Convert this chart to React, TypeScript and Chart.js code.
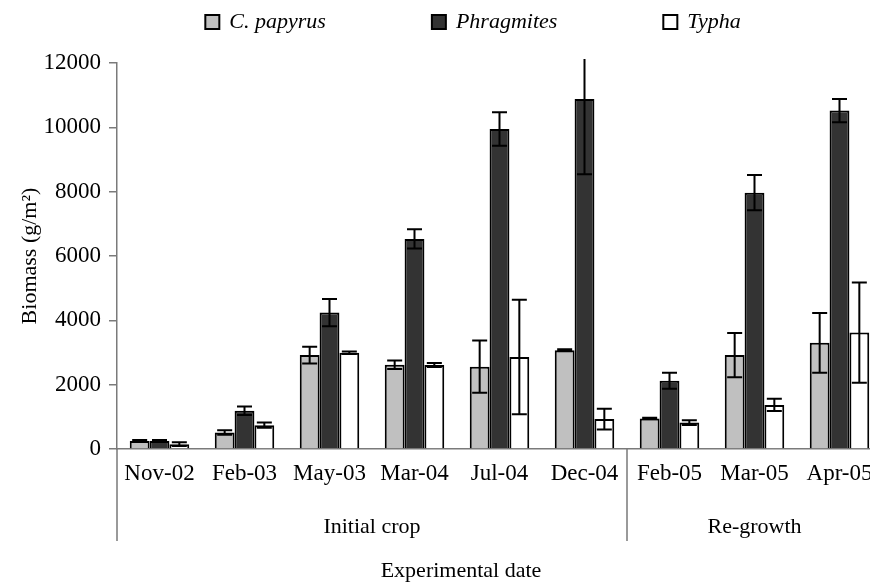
import React, { useEffect, useRef } from 'react';
import { Chart, registerables } from 'chart.js';

Chart.register(...registerables);

const categories = ['Nov-02', 'Feb-03', 'May-03', 'Mar-04', 'Jul-04', 'Dec-04', 'Feb-05', 'Mar-05', 'Apr-05'];
const groupNames = ['Initial crop', 'Re-growth'];
const groupSizes = [6, 3];
const seriesNames = ['C. papyrus', 'Phragmites', 'Typha'];

const papyrus = [250, 510, 2920, 2620, 2560, 3070, 950, 2920, 3300];
const papyrusErr = [30, 70, 260, 130, 810, 30, 25, 690, 930];
const phragmites = [250, 1190, 4240, 6530, 9950, 10880, 2120, 7970, 10520];
const phragmitesErr = [30, 130, 425, 300, 520, 2340, 250, 550, 360];
const typha = [150, 740, 2990, 2610, 2860, 930, 820, 1370, 3620];
const typhaErr = [60, 80, 40, 60, 1780, 320, 70, 190, 1560];

const yMin = 0;
const yMax = 12000;
const yStep = 2000;

const yTitle = 'Biomass (g/m²)';
const xTitle = 'Experimental date';

const FONT = "'Liberation Serif', 'Times New Roman', serif";
const AXIS_COLOR = '#7a7a7a';

const errorBarPlugin = {
  id: 'errorBars',
  afterDatasetsDraw(chart: any) {
    const ctx = chart.ctx;
    const ys = chart.scales.y;
    const limit = chart.chartArea.top - 4;
    chart.data.datasets.forEach((ds: any, di: number) => {
      const meta = chart.getDatasetMeta(di);
      meta.data.forEach((bar: any, i: number) => {
        const v = ds.data[i];
        const e = ds.errors[i];
        const rawTop = ys.getPixelForValue(v + e);
        const yTop = Math.max(rawTop, limit);
        const yBot = ys.getPixelForValue(Math.max(v - e, 0));
        const cap = 7.5;
        ctx.save();
        ctx.strokeStyle = '#000';
        ctx.lineWidth = 2;
        ctx.beginPath();
        ctx.moveTo(bar.x, yTop);
        ctx.lineTo(bar.x, yBot);
        if (rawTop >= limit) {
          ctx.moveTo(bar.x - cap, yTop);
          ctx.lineTo(bar.x + cap, yTop);
        }
        ctx.moveTo(bar.x - cap, yBot);
        ctx.lineTo(bar.x + cap, yBot);
        ctx.stroke();
        ctx.restore();
      });
    });
  },
};

const decorPlugin = {
  id: 'decor',
  afterDraw(chart: any) {
    const ctx = chart.ctx;
    const xs = chart.scales.x;
    const area = chart.chartArea;
    const lineBottom = 541;
    ctx.save();
    ctx.strokeStyle = AXIS_COLOR;
    ctx.lineWidth = 1.5;
    const bounds: number[] = [area.left];
    let idx = 0;
    groupSizes.forEach((n) => {
      idx += n;
      if (idx < categories.length) {
        bounds.push((xs.getPixelForValue(idx - 1) + xs.getPixelForValue(idx)) / 2);
      } else {
        bounds.push(area.right);
      }
    });
    ctx.beginPath();
    for (let b = 0; b < bounds.length - 1; b++) {
      ctx.moveTo(bounds[b], area.bottom);
      ctx.lineTo(bounds[b], lineBottom);
    }
    ctx.stroke();
    ctx.fillStyle = '#000';
    ctx.font = `22px ${FONT}`;
    ctx.textAlign = 'center';
    ctx.textBaseline = 'middle';
    groupNames.forEach((g, gi) => {
      ctx.fillText(g, (bounds[gi] + bounds[gi + 1]) / 2, 527);
    });
    ctx.fillText(xTitle, 461, 571);
    ctx.font = `italic 22px ${FONT}`;
    ctx.textAlign = 'left';
    const box = 14;
    const gapBoxText = 10;
    const gapItems = 106;
    const widths = chart.data.datasets.map((d: any) => box + gapBoxText + ctx.measureText(d.label).width);
    const total = widths.reduce((a: number, b: number) => a + b, 0) + gapItems * (widths.length - 1);
    let x = 473 - total / 2;
    const cy = 22;
    chart.data.datasets.forEach((d: any, di: number) => {
      ctx.fillStyle = d.backgroundColor;
      ctx.fillRect(x, cy - box / 2, box, box);
      ctx.strokeStyle = '#000';
      ctx.lineWidth = 2;
      ctx.strokeRect(x, cy - box / 2, box, box);
      ctx.fillStyle = '#000';
      ctx.fillText(d.label, x + box + gapBoxText, cy);
      x += widths[di] + gapItems;
    });
    ctx.restore();
  },
};

export default function App() {
  const canvasRef = useRef<HTMLCanvasElement | null>(null);

  useEffect(() => {
    if (!canvasRef.current) return;
    const mk = (label: string, data: number[], errors: number[], color: string) => ({
      label,
      data,
      errors,
      backgroundColor: color,
      borderColor: '#000',
      borderWidth: 2,
      categoryPercentage: 0.7,
      barPercentage: 1.0,
    });
    const chart = new Chart(canvasRef.current, {
      type: 'bar',
      data: {
        labels: categories,
        datasets: [
          mk(seriesNames[0], papyrus, papyrusErr, '#c0c0c0'),
          mk(seriesNames[1], phragmites, phragmitesErr, '#333333'),
          mk(seriesNames[2], typha, typhaErr, '#ffffff'),
        ] as any,
      },
      options: {
        animation: false,
        responsive: false,
        devicePixelRatio: 1,
        layout: { padding: { left: 0, right: 18, top: 63, bottom: 0 } },
        plugins: {
          legend: { display: false },
          tooltip: { enabled: false },
        },
        scales: {
          x: {
            grid: { display: false, drawTicks: false },
            border: { display: true, color: AXIS_COLOR, width: 1.5 },
            ticks: {
              color: '#000',
              font: { family: FONT, size: 23 },
              padding: 11,
              maxRotation: 0,
              autoSkip: false,
            },
            afterFit: (s: any) => {
              s.height = 138;
            },
          },
          y: {
            min: yMin,
            max: yMax,
            grid: { drawOnChartArea: false, drawTicks: true, tickLength: 8, color: AXIS_COLOR, lineWidth: 1.5 },
            border: { display: true, color: AXIS_COLOR, width: 1.5 },
            ticks: {
              stepSize: yStep,
              color: '#000',
              font: { family: FONT, size: 23 },
              padding: 8,
              callback: (v: any) => String(v),
            },
            title: {
              display: true,
              text: yTitle,
              color: '#000',
              font: { family: FONT, size: 22 },
              padding: { top: 17, bottom: 0 },
            },
            afterFit: (s: any) => {
              s.width = 117;
            },
          },
        },
      },
      plugins: [errorBarPlugin, decorPlugin],
    } as any);
    return () => chart.destroy();
  }, []);

  return (
    <div style={{ position: 'fixed', left: 0, top: 0, width: 870, height: 587, overflow: 'hidden', background: '#fff' }}>
      <canvas ref={canvasRef} width={900} height={587} style={{ display: 'block' }} />
    </div>
  );
}
